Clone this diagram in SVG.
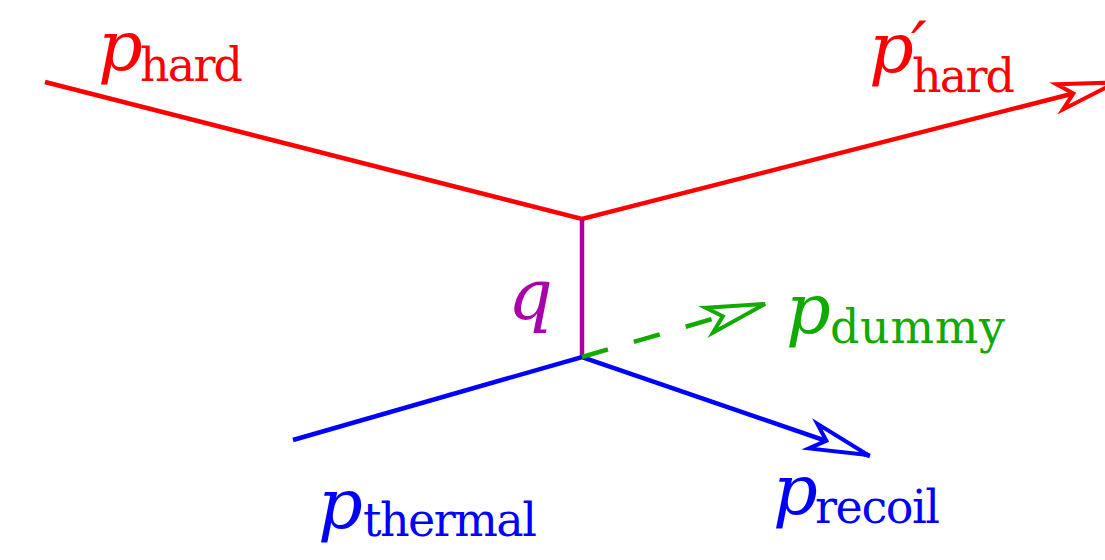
<svg xmlns="http://www.w3.org/2000/svg" width="1105" height="560" viewBox="0 0 1105 560">
<style>
.ln{fill:none;stroke-width:4.5;stroke-linecap:butt}
.ah{fill:#fff;stroke-width:4;stroke-linejoin:miter}
.red{stroke:#ff0000}
.blue{stroke:#0000ff}
.green{stroke:#11aa00}
.purple{stroke:#aa00aa}
.p{font-family:"DejaVu Serif","Liberation Serif",serif;font-style:italic;font-size:70px}
.sub{font-family:"DejaVu Serif","Liberation Serif",serif;font-style:normal;font-size:46px}
</style>
<defs>
<path id="head" d="M0,0 L-58,-13 L-44,0 L-58,13 Z"/>
</defs>
<rect width="1105" height="560" fill="#fff"/>
<g id="connectors">
<polyline class="ln red" points="45,82 582,219 1116,82.5"/>
<line class="ln purple" x1="582" y1="219" x2="582" y2="357"/>
<polyline class="ln blue" points="293,440 582,357 870,456"/>
<line class="ln green" x1="582" y1="357" x2="767" y2="303" stroke-dasharray="27 27"/>
<use href="#head" class="ah red" transform="translate(1116,82.5) rotate(-14.34)"/>
<use href="#head" class="ah blue" transform="translate(868,455) rotate(18.97)"/>
<use href="#head" class="ah green" transform="translate(765,304) rotate(-16.27)"/>
</g>
<g id="p_hard" fill="#ff0000">
<text class="p" x="98" y="70">p</text>
<text class="sub" x="140" y="81" textLength="103">hard</text>
</g>
<g id="p_hard_prime" fill="#ff0000">
<text class="p" x="869" y="72">p</text>
<text class="p" x="911" y="71" font-size="76">′</text>
<text class="sub" x="912" y="92" textLength="103">hard</text>
</g>
<g id="q" fill="#aa00aa">
<text class="p" x="508" y="319">q</text>
</g>
<g id="p_dummy" fill="#11aa00">
<text class="p" x="786" y="333">p</text>
<text class="sub" x="830" y="343" textLength="175">dummy</text>
</g>
<g id="p_thermal" fill="#0000ff">
<text class="p" x="318" y="528">p</text>
<text class="sub" x="363" y="536" textLength="174">thermal</text>
</g>
<g id="p_recoil" fill="#0000ff">
<text class="p" x="773" y="514">p</text>
<text class="sub" x="815" y="523" textLength="125">recoil</text>
</g>
</svg>
